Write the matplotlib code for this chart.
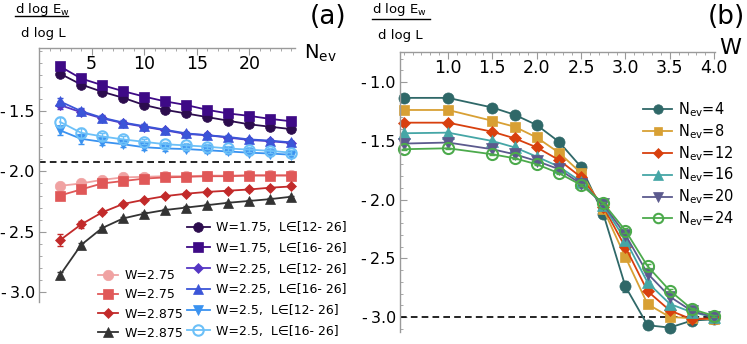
import numpy as np
import matplotlib
matplotlib.use("Agg")
import matplotlib.pyplot as plt
from matplotlib.lines import Line2D
from matplotlib.ticker import MultipleLocator, FixedLocator, FixedFormatter

# ---- panel (a): slope vs N_ev ----
n_ev = [2, 4, 6, 8, 10, 12, 14, 16, 18, 20, 22, 24]

w175_l12 = [-1.19, -1.28, -1.34, -1.39, -1.45, -1.49, -1.52, -1.55, -1.58, -1.61, -1.63, -1.65]
w175_l16 = [-1.13, -1.23, -1.285, -1.335, -1.38, -1.42, -1.45, -1.49, -1.52, -1.54, -1.565, -1.585]
w225_l12 = [-1.45, -1.51, -1.56, -1.60, -1.63, -1.66, -1.69, -1.70, -1.72, -1.74, -1.75, -1.765]
w225_l16 = [-1.42, -1.50, -1.555, -1.595, -1.625, -1.655, -1.685, -1.70, -1.715, -1.735, -1.745, -1.76]
w25_l12 = [-1.66, -1.73, -1.755, -1.775, -1.80, -1.81, -1.815, -1.825, -1.835, -1.845, -1.852, -1.862]
w25_l16 = [-1.59, -1.68, -1.71, -1.735, -1.755, -1.775, -1.785, -1.795, -1.81, -1.82, -1.83, -1.845]
w275_a = [-2.12, -2.10, -2.07, -2.05, -2.045, -2.04, -2.04, -2.035, -2.035, -2.03, -2.03, -2.03]
w275_b = [-2.20, -2.15, -2.10, -2.08, -2.06, -2.05, -2.045, -2.04, -2.04, -2.035, -2.035, -2.035]
w2875_a = [-2.57, -2.44, -2.34, -2.27, -2.235, -2.205, -2.185, -2.17, -2.16, -2.15, -2.135, -2.125]
w2875_b = [-2.86, -2.61, -2.47, -2.39, -2.35, -2.32, -2.30, -2.28, -2.26, -2.245, -2.23, -2.21]

err_small = [0.01] * 12
err_w225 = [0.03, 0.025, 0.02, 0.02, 0.02, 0.015, 0.015, 0.015, 0.015, 0.015, 0.015, 0.015]
err_w25 = [0.04, 0.04, 0.03, 0.025, 0.02, 0.02, 0.02, 0.02, 0.02, 0.02, 0.02, 0.02]
err_w2875a = [0.05, 0.03, 0.015, 0.01, 0.01, 0.01, 0.01, 0.01, 0.01, 0.01, 0.01, 0.01]
err_w2875b = [0.03, 0.015, 0.01, 0.01, 0.01, 0.01, 0.01, 0.01, 0.01, 0.01, 0.01, 0.01]

dash_a = -1.92

# ---- panel (b): slope vs W ----
w_vals = [0.5, 1.0, 1.5, 1.75, 2.0, 2.25, 2.5, 2.75, 3.0, 3.25, 3.5, 3.75, 4.0]
nev4 = [-1.135, -1.135, -1.217, -1.278, -1.366, -1.508, -1.723, -2.12, -2.74, -3.07, -3.09, -3.03, -3.02]
nev8 = [-1.238, -1.238, -1.33, -1.38, -1.472, -1.601, -1.774, -2.08, -2.49, -2.89, -3.00, -3.01, -3.02]
nev12 = [-1.346, -1.346, -1.423, -1.479, -1.556, -1.663, -1.81, -2.06, -2.406, -2.78, -2.944, -3.02, -3.01]
nev16 = [-1.436, -1.431, -1.502, -1.556, -1.635, -1.72, -1.848, -2.05, -2.344, -2.706, -2.888, -2.96, -3.0]
nev20 = [-1.524, -1.515, -1.572, -1.615, -1.672, -1.742, -1.867, -2.04, -2.30, -2.63, -2.826, -2.95, -3.0]
nev24 = [-1.572, -1.564, -1.615, -1.649, -1.70, -1.776, -1.876, -2.03, -2.264, -2.568, -2.775, -2.933, -2.99]
err_nev4 = [0.005, 0.005, 0.005, 0.005, 0.005, 0.01, 0.01, 0.01, 0.045, 0.01, 0.01, 0.01, 0.01]
err_nevx = [0.005] * 6 + [0.01, 0.01, 0.02, 0.015, 0.01, 0.01, 0.01]

dash_b = -3.0

a_ticks = [5, 10, 15, 20]
a_yticks = [-1.5, -2.0, -2.5, -3.0]
b_ticks = [1.0, 1.5, 2.0, 2.5, 3.0, 3.5, 4.0]
b_yticks = [-1.0, -1.5, -2.0, -2.5, -3.0]

W, H = 747, 344
fig = plt.figure(figsize=(W / 100, H / 100), dpi=100)


def px_axes(x0, y0, x1, y1):
    return fig.add_axes([x0 / W, 1 - y1 / H, (x1 - x0) / W, (y1 - y0) / H])


def style(ax, xt, yt, xminor, xfmt):
    for s in ["right", "bottom"]:
        ax.spines[s].set_visible(False)
    for s in ["left", "top"]:
        ax.spines[s].set_color("#9a9a9a")
        ax.spines[s].set_linewidth(1.0)
    ax.xaxis.set_ticks_position("top")
    ax.xaxis.set_major_locator(FixedLocator(xt))
    ax.xaxis.set_major_formatter(FixedFormatter([xfmt(v) for v in xt]))
    ax.xaxis.set_minor_locator(MultipleLocator(xminor))
    ax.yaxis.set_major_locator(FixedLocator(yt))
    ax.yaxis.set_major_formatter(FixedFormatter(["-\u2009%.1f" % abs(v) for v in yt]))
    ax.yaxis.set_minor_locator(MultipleLocator(0.1))
    ax.tick_params(which="both", direction="in", colors="#9a9a9a",
                   labelcolor="black", labelsize=12.5)
    ax.tick_params(axis="y", labelsize=11.5)
    ax.tick_params(which="major", length=5, width=0.8)
    ax.tick_params(which="minor", length=2.5, width=0.6)
    ax.tick_params(axis="x", which="both", top=True, bottom=False,
                   labeltop=True, labelbottom=False, pad=-18.5)
    ax.tick_params(axis="y", pad=3)
    ax.patch.set_alpha(0)


def series(ax, x, y, err, color, marker, ms, label, open_=False):
    ax.errorbar(x, y, yerr=err, fmt="none", ecolor=color, elinewidth=1.0,
                capsize=2, capthick=1.0, clip_on=False)
    ln, = ax.plot(x, y, color=color, marker=marker, ms=ms, lw=1.3,
                  mfc="none" if open_ else color, mew=1.5 if open_ else 0.5,
                  label=label, clip_on=False)
    return ln


# ---------------- panel (a) ----------------
axa = px_axes(39, 47.7, 295, 301.7)
axa.set_xlim(0, 24.35)
axa.set_ylim(-3.08, -0.975)
style(axa, a_ticks, a_yticks, 1, lambda v: "%d" % v)
axa.axhline(dash_a, color="black", ls=(0, (4, 2.5)), lw=1.2)

hr = []
hr.append(series(axa, n_ev, w175_l12, err_small, "#2c0c4e", "o", 7.0, "W=1.75,  L\u2208[12- 26]"))
hr.append(series(axa, n_ev, w175_l16, err_small, "#3e0a86", "s", 6.5, "W=1.75,  L\u2208[16- 26]"))
hr.append(series(axa, n_ev, w225_l12, err_w225, "#5536c4", "D", 5.5, "W=2.25,  L\u2208[12- 26]"))
hr.append(series(axa, n_ev, w225_l16, err_w225, "#3b55d8", "^", 7.5, "W=2.25,  L\u2208[16- 26]"))
hr.append(series(axa, n_ev, w25_l12, err_w25, "#3a92f0", "v", 7.5, "W=2.5,  L\u2208[12- 26]"))
hr.append(series(axa, n_ev, w25_l16, err_w25, "#6cc0f8", "o", 7.5, "W=2.5,  L\u2208[16- 26]", open_=True))

hl = []
hl.append(series(axa, n_ev, w275_a, err_small, "#f0a2a2", "o", 7.5, "W=2.75"))
hl.append(series(axa, n_ev, w275_b, err_small, "#e05858", "s", 7.0, "W=2.75"))
hl.append(series(axa, n_ev, w2875_a, err_w2875a, "#c22a2a", "D", 5.5, "W=2.875"))
hl.append(series(axa, n_ev, w2875_b, err_w2875b, "#333333", "^", 7.5, "W=2.875"))

leg_r = fig.legend(handles=hr, loc="upper left", bbox_to_anchor=(187 / W, 1 - 221 / H),
                   frameon=False, fontsize=9, handlelength=1.8, handletextpad=0.5,
                   labelspacing=0.62, borderpad=0, borderaxespad=0)
leg_l = fig.legend(handles=hl, loc="upper left", bbox_to_anchor=(98 / W, 1 - 269 / H),
                   frameon=False, fontsize=9, handlelength=1.6, handletextpad=0.5,
                   labelspacing=0.5, borderpad=0, borderaxespad=0)

# ---------------- panel (b) ----------------
axb = px_axes(400, 51.7, 715, 331.7)
axb.set_xlim(0.459, 4.01)
axb.set_ylim(-3.125, -0.742)
style(axb, b_ticks, b_yticks, 0.1, lambda v: "%.1f" % v)
axb.axhline(dash_b, color="black", ls=(0, (4, 2.5)), lw=1.2)

hb = []
hb.append(series(axb, w_vals, nev4, err_nev4, "#2f6868", "o", 8.0, r"$\mathregular{N_{ev}}$=4"))
hb.append(series(axb, w_vals, nev8, err_nevx, "#d8a034", "s", 7.5, r"$\mathregular{N_{ev}}$=8"))
hb.append(series(axb, w_vals, nev12, err_nevx, "#d8400e", "D", 6.0, r"$\mathregular{N_{ev}}$=12"))
hb.append(series(axb, w_vals, nev16, err_nevx, "#45a6a6", "^", 8.0, r"$\mathregular{N_{ev}}$=16"))
hb.append(series(axb, w_vals, nev20, err_nevx, "#5c5a8e", "v", 8.0, r"$\mathregular{N_{ev}}$=20"))
hb.append(series(axb, w_vals, nev24, err_nevx, "#4caa4c", "o", 8.0, r"$\mathregular{N_{ev}}$=24", open_=True))

fig.legend(handles=hb, loc="upper left", bbox_to_anchor=(643 / W, 1 - 100 / H),
           frameon=False, fontsize=10.5, handlelength=2.0, handletextpad=0.4,
           labelspacing=0.22, borderpad=0, borderaxespad=0, markerscale=0.85)

# ---------------- labels ----------------
def ylabel_frac(x_num, x_den, x_line0, x_line1, y_num, y_line, y_den):
    fig.text(x_num / W, 1 - y_num / H, r"d log E$_\mathregular{w}$", fontsize=9.5,
             ha="left", va="center")
    fig.add_artist(Line2D([x_line0 / W, x_line1 / W], [1 - y_line / H, 1 - y_line / H],
                          transform=fig.transFigure, color="black", lw=1.0))
    fig.text(x_den / W, 1 - y_den / H, "d log L", fontsize=9.5, ha="left", va="center")


ylabel_frac(15, 21, 15, 68, 10, 16, 33)
ylabel_frac(372, 378, 372, 430, 10, 18.5, 36)

fig.text(304 / W, 1 - 53 / H, r"$\mathregular{N_{ev}}$", fontsize=14, ha="left", va="center")
fig.text(719 / W, 1 - 48 / H, "W", fontsize=16, ha="left", va="center")
fig.text(328 / W, 1 - 17 / H, "(a)", fontsize=19, ha="center", va="center")
fig.text(726 / W, 1 - 17 / H, "(b)", fontsize=19, ha="center", va="center")

fig.savefig("out.png", dpi=100)
